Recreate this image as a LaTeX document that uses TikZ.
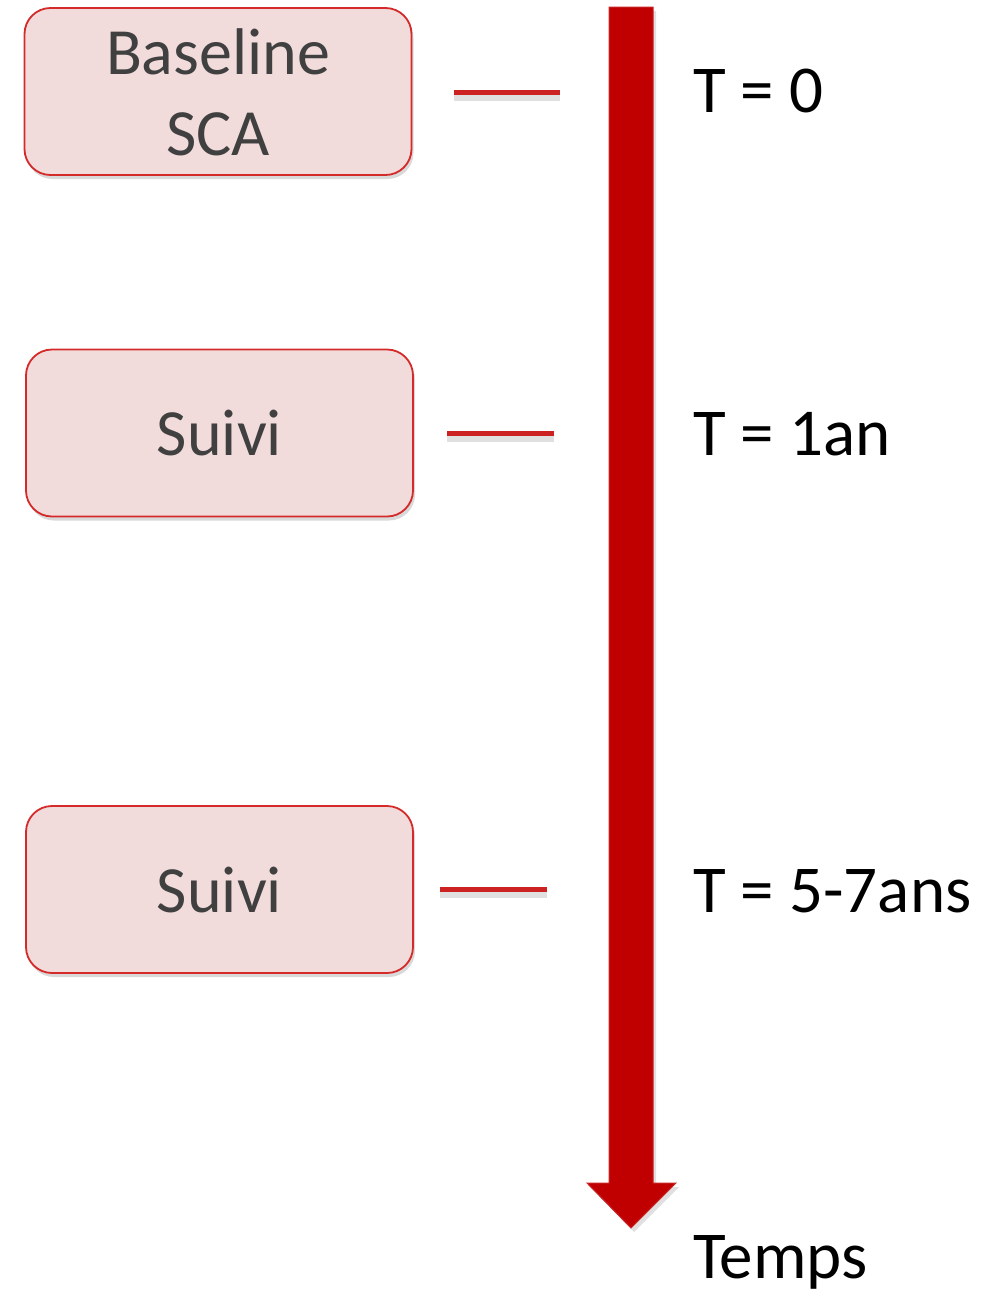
\documentclass[tikz,border=0pt]{standalone}
\usepackage{fontspec}
\setmainfont{Carlito}
\usetikzlibrary{shadows}
\definecolor{boxfill}{HTML}{F2DCDB}
\definecolor{boxline}{HTML}{D42A2A}
\definecolor{arrowred}{HTML}{C00000}
\definecolor{tickred}{HTML}{CC2222}
\definecolor{boxtextc}{HTML}{404040}
\begin{document}
\begin{tikzpicture}[x=1pt,y=-1pt,
  stagebox/.style={draw=boxline, line width=1.8pt, fill=boxfill, rounded corners=26pt,
    minimum width=387pt, minimum height=167pt, inner sep=0pt,
    drop shadow={opacity=0.3, shadow xshift=2pt, shadow yshift=-4pt}},
  boxtext/.style={inner sep=0pt, text=boxtextc, font=\fontsize{66pt}{80pt}\selectfont, anchor=base},
  lbl/.style={inner sep=0pt, text=black, font=\fontsize{67pt}{80pt}\selectfont, anchor=base west},
  tick/.style={draw=tickred, line width=5pt}
]
\useasboundingbox (0,0) rectangle (1003,1293);
% boxes
\node[stagebox] (b1) at (218,91.5) {};
\node[stagebox] (b2) at (219.5,433) {};
\node[stagebox] (b3) at (219.5,889.5) {};
\node[boxtext] (t1a) at (218,74) {Baseline};
\node[boxtext] (t1b) at (218,155) {SCA};
\node[boxtext] (t2) at (219.5,455) {Suivi};
\node[boxtext] (t3) at (219.5,912) {Suivi};
% ticks
\coordinate (k1a) at (454,92); \coordinate (k1b) at (560,92);
\coordinate (k2a) at (447,433); \coordinate (k2b) at (554,433);
\coordinate (k3a) at (440,889); \coordinate (k3b) at (547,889);
\fill[black, opacity=0.12] (454,95) rectangle (560,101);
\fill[black, opacity=0.12] (447,436) rectangle (554,442);
\fill[black, opacity=0.12] (440,892) rectangle (547,898);
\draw[tick] (k1a) -- (k1b);
\draw[tick] (k2a) -- (k2b);
\draw[tick] (k3a) -- (k3b);
% time arrow
\coordinate (at) at (631,7);
\coordinate (tip) at (631,1228);
\fill[black, opacity=0.12] (612,11) -- (656,11) -- (656,1187) -- (679,1187) -- (634,1232) -- (590,1187) -- (612,1187) -- cycle;
\filldraw[fill=arrowred, draw=arrowred!85!white, line width=1pt]
  (609,7) -- (653,7) -- (653,1183) -- (676,1183) -- (tip) -- (587,1183) -- (609,1183) -- cycle;
% labels
\node[lbl] (l1) at (693,112) {T = 0};
\node[lbl] (l2) at (693,455) {T = 1an};
\node[lbl] (l3) at (693,912) {T = 5-7ans};
\node[lbl] (l4) at (693,1278) {Temps};
\end{tikzpicture}
\end{document}
